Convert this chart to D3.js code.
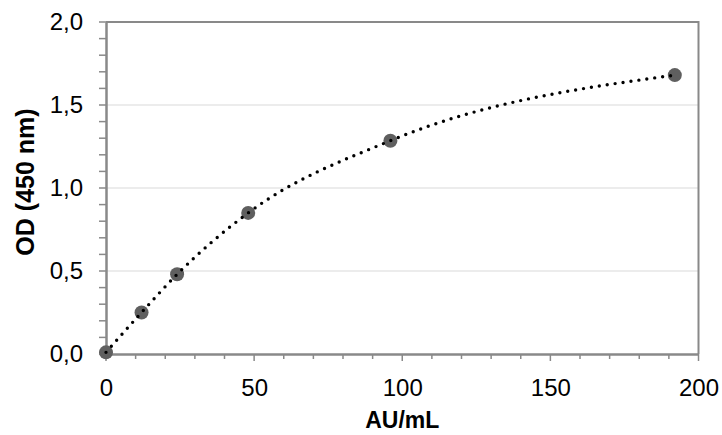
<!DOCTYPE html>
<html><head><meta charset="utf-8">
<script src="https://cdn.jsdelivr.net/npm/d3@7"></script>
<style>body{margin:0;background:#fff}svg{display:block}text{font-family:"Liberation Sans",Arial,sans-serif}</style>
</head><body>
<svg id="c" width="722" height="435"></svg>
<script>
const concentrations = [0, 12, 24, 48, 96, 192];
const odValues = [0.01, 0.25, 0.48, 0.85, 1.285, 1.68];
const xTicks = [0, 50, 100, 150, 200];
const yTicks = [0, 0.5, 1.0, 1.5, 2.0];
const xTitle = "AU/mL";
const yTitle = "OD (450 nm)";

const svg = d3.select("#c");
const m = {l:106, r:698.5, t:22, b:354};
const x = d3.scaleLinear().domain([0,200]).range([m.l, m.r]);
const y = d3.scaleLinear().domain([0,2]).range([m.b, m.t]);
const fmt = d => d3.format(".1f")(d).replace(".", ",");

// gridlines
svg.append("g").selectAll("line").data(yTicks.filter(d=>d>0 && d<2)).join("line")
  .attr("x1", m.l).attr("x2", m.r).attr("y1", d=>y(d)).attr("y2", d=>y(d))
  .attr("stroke", "#d9d9d9").attr("stroke-width", 1.2);

// frame top/right
svg.append("path").attr("d", `M${m.l},${m.t}H${m.r}V${m.b}`)
  .attr("fill","none").attr("stroke","#898989").attr("stroke-width",2);

// minor ticks
const axCol = "#898989";
svg.append("g").selectAll("line").data(d3.range(0, 201, 10)).join("line")
  .attr("x1", d=>x(d)).attr("x2", d=>x(d)).attr("y1", m.b).attr("y2", d=> d%50===0 ? m.b+7 : m.b+5)
  .attr("stroke", axCol).attr("stroke-width", 1.5);
svg.append("g").selectAll("line").data(d3.range(0, 21, 1)).join("line")
  .attr("y1", d=>y(d/10)).attr("y2", d=>y(d/10)).attr("x1", m.l).attr("x2", m.l-7)
  .attr("stroke", axCol).attr("stroke-width", 1.5);

// axes lines
const xAxis = d3.axisBottom(x).tickValues(xTicks).tickSize(0).tickPadding(25);
const gx = svg.append("g").attr("transform", `translate(0,${m.b})`).call(xAxis);
gx.select(".domain").attr("stroke", axCol).attr("stroke-width", 2.5);
gx.selectAll("text").attr("font-size", 24).attr("fill", "#000");
const yAxis = d3.axisLeft(y).tickValues(yTicks).tickFormat(fmt).tickSize(0).tickPadding(23);
const gy = svg.append("g").attr("transform", `translate(${m.l},0)`).call(yAxis);
gy.select(".domain").attr("stroke", axCol).attr("stroke-width", 2.5);
gy.selectAll("text").attr("font-size", 24).attr("fill", "#000");

// points
const data = concentrations.map((c,i)=>({c, v: odValues[i]}));
svg.append("g").selectAll("circle").data(data).join("circle")
  .attr("cx", d=>x(d.c)).attr("cy", d=>y(d.v)).attr("r", 7).attr("fill", "#5f5f5f");

// dotted trend curve
const line = d3.line().x(d=>x(d.c)).y(d=>y(d.v)).curve(d3.curveMonotoneX);
svg.append("path").datum(data).attr("d", line).attr("fill","none")
  .attr("stroke","#000").attr("stroke-width",3.4).attr("stroke-linecap","round")
  .attr("stroke-dasharray","0 8");

// titles
svg.append("text").attr("x", (m.l+m.r)/2).attr("y", 428).attr("text-anchor","middle")
  .attr("font-size", 23).attr("font-weight","bold").text(xTitle);
svg.append("text").attr("transform", `translate(34,182) rotate(-90)`)
  .attr("text-anchor","middle").attr("font-size", 25).attr("font-weight","bold").text(yTitle);
</script>
</body></html>
